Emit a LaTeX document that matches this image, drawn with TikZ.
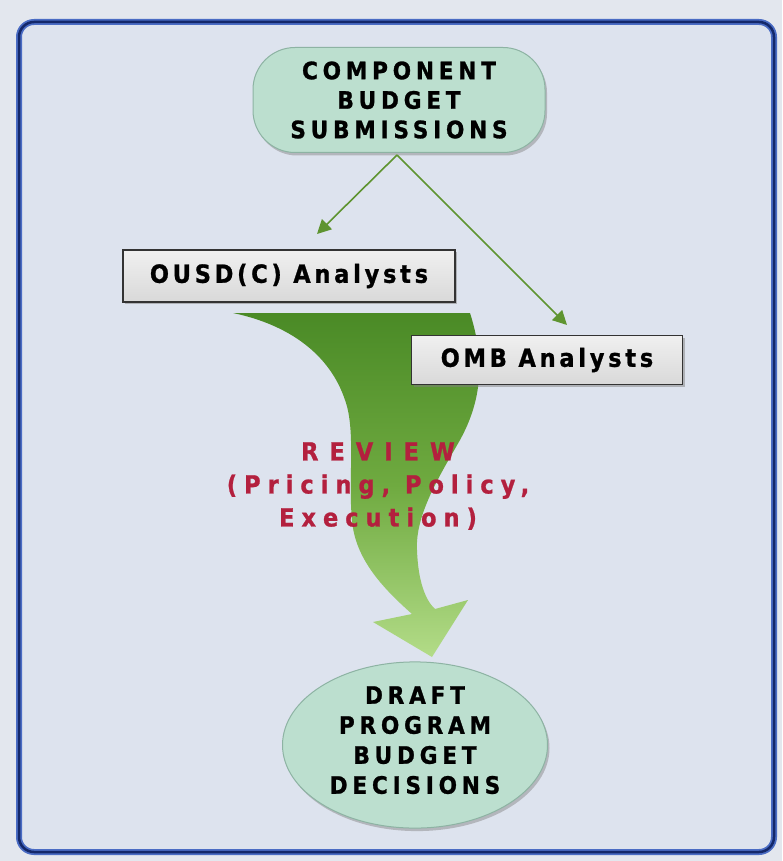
\documentclass[tikz,border=0pt]{standalone}
\usepackage{fontspec}
\usetikzlibrary{shadows,arrows.meta,shapes.geometric}
\newfontfamily\lab[FakeStretch=0.9,LetterSpace=20,FakeBold=1]{DejaVu Sans}
\newfontfamily\labb[FakeStretch=0.9,LetterSpace=15,FakeBold=1]{DejaVu Sans}
\newfontfamily\revfont[FakeStretch=0.9,LetterSpace=28,FakeBold=1]{DejaVu Sans}
\newfontfamily\revwide[FakeStretch=0.9,LetterSpace=44,FakeBold=1]{DejaVu Sans}
\definecolor{bgout}{HTML}{E3E7EE}
\definecolor{bgin}{HTML}{DDE3EE}
\definecolor{frameL}{HTML}{4A6CC4}
\definecolor{frameD}{HTML}{14286A}
\definecolor{mint}{HTML}{BCDFCF}
\definecolor{mintD}{HTML}{8DB3A3}
\definecolor{olive}{HTML}{5E9430}
\definecolor{revred}{HTML}{B3203E}
\definecolor{gDark}{HTML}{4A8A26}
\definecolor{gMid}{HTML}{6FAA40}
\definecolor{gLight}{HTML}{B3DC88}
\tikzset{
  pill/.style={rectangle, rounded corners=42pt, fill=mint, draw=mintD, line width=1pt,
    minimum width=292pt, minimum height=105pt, align=center,
    drop shadow={shadow xshift=2pt, shadow yshift=-3pt, opacity=0.45},
    font=\lab\bfseries\fontsize{24}{29.5}\selectfont},
  oval/.style={ellipse, fill=mint, draw=mintD, line width=1pt,
    minimum width=265pt, minimum height=154pt, inner sep=0pt, align=center,
    drop shadow={shadow xshift=2pt, shadow yshift=-3pt, opacity=0.45},
    font=\lab\bfseries\fontsize{24}{30}\selectfont},
  greybox/.style={rectangle, top color=gray!12, bottom color=gray!30, draw=black!80,
    line width=1.5pt, align=center,
    drop shadow={shadow xshift=2pt, shadow yshift=-2pt, opacity=0.5},
    font=\labb\bfseries\fontsize{25}{26}\selectfont},
  thinarrow/.style={draw=olive, line width=1.6pt, -{Triangle[length=14pt,width=14pt]}},
  revtext/.style={text=revred, align=center, font=\revfont\bfseries\fontsize{25}{33}\selectfont}
}
\begin{document}
\begin{tikzpicture}[x=1pt,y=-1pt]
\useasboundingbox (0,0) rectangle (782,861);
\fill[bgout] (0,0) rectangle (782,861);
% frame
\draw[frameL, line width=6pt, rounded corners=15pt, fill=bgin] (19,22) rectangle (774,852);
\draw[frameD, line width=2.5pt, rounded corners=15pt] (19,22) rectangle (774,852);
% big curved arrow
\path[top color=gDark, bottom color=gLight, middle color=gMid]
  (233,313) -- (470,313)
  .. controls (485,360) and (482,400) .. (460,440)
  .. controls (440,475) and (415,515) .. (417,550)
  .. controls (418,580) and (425,600) .. (435,609)
  -- (468,600) -- (432,657) -- (373,622) -- (412,614)
  .. controls (385,590) and (355,560) .. (352,520)
  .. controls (348,480) and (356,430) .. (345,400)
  .. controls (330,355) and (290,325) .. (233,313) -- cycle;
% nodes
\node[pill] (top) at (399,100) {COMPONENT\\BUDGET\\SUBMISSIONS};
\node[greybox, minimum width=332pt, minimum height=52pt] (ousd) at (289,276) {OUSD(C) Analysts};
\node[greybox, minimum width=271pt, minimum height=49pt] (omb) at (547,360) {OMB Analysts};
\node[oval] (draft) at (415,745) {DRAFT\\PROGRAM\\BUDGET\\DECISIONS\rule[-10pt]{0pt}{10pt}};
\node[revtext] (review) at (378,486) {{\revwide REVIEW}\\(Pricing, Policy,\\Execution)};
% connectors
\coordinate (a1) at (317,234);
\coordinate (a2) at (567,325);
\coordinate (s) at (397,155);
\draw[thinarrow] (s) -- (a1);
\draw[thinarrow] (s) -- (a2);
\end{tikzpicture}
\end{document}
